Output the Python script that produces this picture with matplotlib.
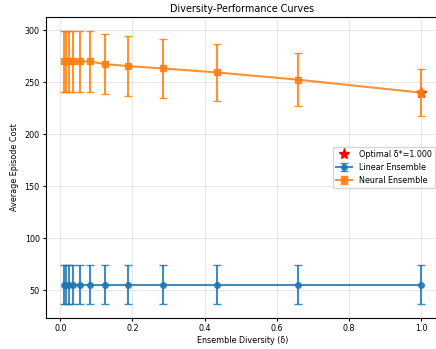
import matplotlib
matplotlib.use("Agg")
import matplotlib.pyplot as plt

diversity = [0.01, 0.0152, 0.0231, 0.0351, 0.0534, 0.0811, 0.1233, 0.1874, 0.2848, 0.4329, 0.6579, 1.0]
linear_mean = [55, 55, 55, 55, 55, 55, 55, 55, 55, 55, 55, 55]
linear_std = [18.7, 18.7, 18.7, 18.7, 18.7, 18.7, 18.7, 18.7, 18.7, 18.7, 18.7, 18.7]
neural_mean = [270, 270, 270, 270, 270, 270, 267.5, 265.6, 263.3, 259.5, 252.5, 240]
neural_std = [29.5, 29.5, 29.5, 29.5, 29.5, 29.5, 28.8, 28.6, 28.3, 27.3, 25.5, 22.7]
optimal_delta = 1.0
optimal_cost = 240

fig = plt.figure(figsize=(4.36, 3.49), dpi=100)
ax = fig.add_axes([0.1055, 0.0888, 0.9015, 0.862])

ax.plot([optimal_delta], [optimal_cost], '*', color='red', markersize=8,
        label=f'Optimal δ*={optimal_delta:.3f}', zorder=1)
ax.errorbar(diversity, linear_mean, yerr=linear_std, fmt='-o', color='#1f77b4',
            capsize=3, linewidth=1.5, markersize=4, alpha=0.85, label='Linear Ensemble')
ax.errorbar(diversity, neural_mean, yerr=neural_std, fmt='-s', color='#ff7f0e',
            capsize=3, linewidth=1.5, markersize=4, alpha=0.85, label='Neural Ensemble')

ax.set_title('Diversity-Performance Curves', fontsize=6.9, pad=4)
ax.set_xlabel('Ensemble Diversity (δ)', fontsize=5.8, labelpad=2)
ax.set_ylabel('Average Episode Cost', fontsize=5.8, labelpad=4)
ax.tick_params(labelsize=5.8, length=2.5, pad=2)
ax.grid(True, alpha=0.3)
ax.legend(fontsize=5.8, loc='center right')

fig.savefig('out.png', dpi=100)
